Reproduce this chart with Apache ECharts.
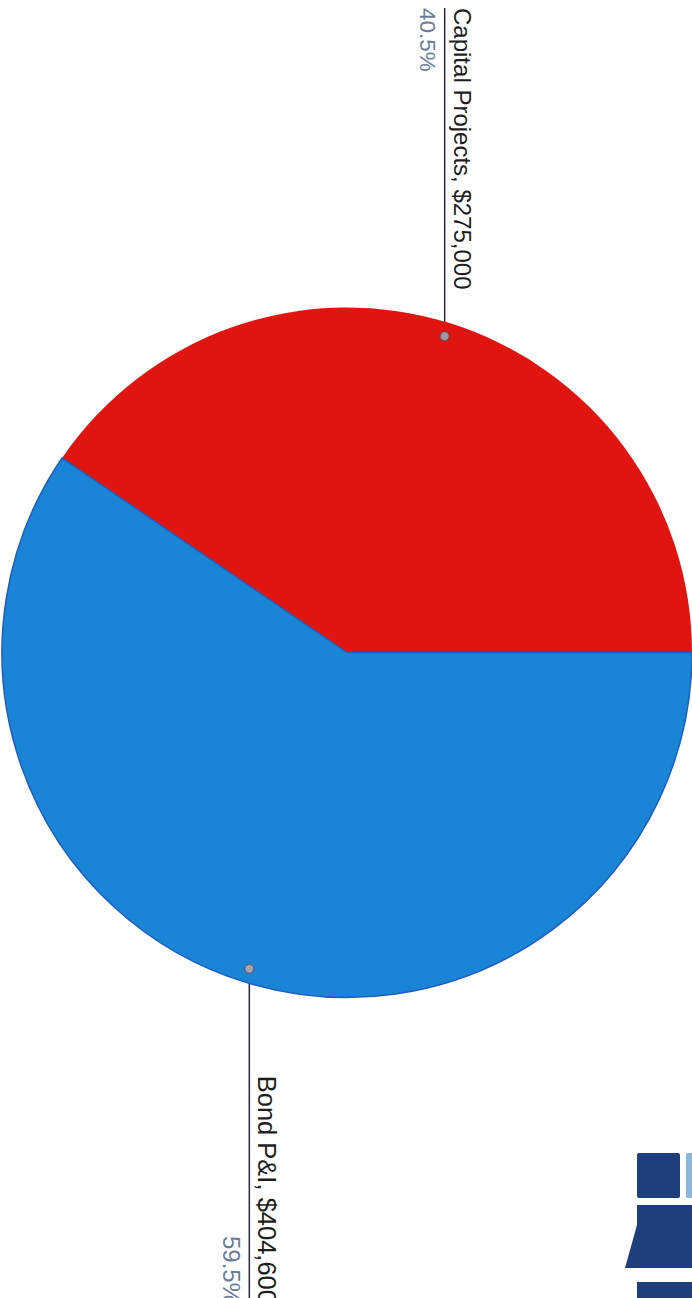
<!DOCTYPE html>
<html>
<head>
<meta charset="utf-8">
<script src="https://cdn.jsdelivr.net/npm/echarts@6/dist/echarts.min.js"></script>
<style>
  html, body { margin: 0; padding: 0; background: #ffffff; width: 692px; height: 1298px; overflow: hidden; }
  /* the page is printed sideways: the landscape chart is turned a quarter clockwise */
  #chart { position: absolute; left: 0; top: 0; width: 1312px; height: 692px;
           transform-origin: 0 0; transform: translate(692px, 0) rotate(90deg); }
</style>
</head>
<body>
<div id="chart"></div>
<script>
// Fund uses
const categories = ['Capital Projects', 'Bond P&I'];
const amounts = [275000, 404600];
const sliceColors = ['#e1150f', '#1a85d4'];
const sliceBorders = ['#e1150f', '#1f5cc2'];
const dotFills = ['#92b6c9', '#c8aaa4'];
const dotBorders = ['#2f4a66', '#4a3a44'];
const nameSizes = [24, 25.5];
const percentSizes = [22.5, 24];

const CENTER = [652.5, 345];
const RADIUS = 345;
const DOT_R = 331;
const FONT = '"Liberation Sans", Arial, Helvetica, sans-serif';

const total = amounts.reduce((a, b) => a + b, 0);
// middle angle of each slice (degrees, counter-clockwise from the right, starting at the top)
const midAngles = [];
let acc = 90;
amounts.forEach(v => {
  const span = v / total * 360;
  midAngles.push(acc + span / 2);
  acc += span;
});

const chart = echarts.init(document.getElementById('chart'), null, { renderer: 'svg' });

chart.setOption({
  backgroundColor: '#ffffff',
  animation: false,
  polar: { center: CENTER, radius: RADIUS },
  radiusAxis: { type: 'value', min: 0, max: RADIUS, show: false },
  angleAxis: { type: 'value', min: 0, max: 360, startAngle: 0, clockwise: false, show: false },
  series: [
    {
      type: 'pie',
      center: CENTER,
      radius: RADIUS,
      startAngle: 90,
      clockwise: false,
      percentPrecision: 1,
      silent: true,
      data: categories.map((name, i) => ({
        name: name,
        value: amounts[i],
        itemStyle: {
          color: sliceColors[i],
          borderColor: sliceBorders[i],
          borderWidth: i === 1 ? 1.5 : 0
        },
        label: {
          rich: {
            name: { fontFamily: FONT, fontSize: nameSizes[i], color: '#1e1e22', lineHeight: 35 },
            per: { fontFamily: FONT, fontSize: percentSizes[i], color: '#6a7d96', lineHeight: 35 }
          }
        }
      })),
      label: {
        show: true,
        alignTo: 'edge',
        edgeDistance: 8,
        fontFamily: FONT,
        formatter: p => '{name|' + p.name + ', $' + p.value.toLocaleString('en-US') + '}\n{per|' + p.percent + '%}',
        rich: {
          name: { fontFamily: FONT, fontSize: 24, color: '#1e1e22', lineHeight: 35 },
          per: { fontFamily: FONT, fontSize: 22.5, color: '#6a7d96', lineHeight: 35 }
        }
      },
      labelLine: {
        show: true,
        length: 0,
        length2: 0,
        lineStyle: { color: '#26283a', width: 1.5 }
      },
      labelLayout: function (params) {
        const a = midAngles[params.dataIndex] * Math.PI / 180;
        const px = CENTER[0] + DOT_R * Math.cos(a);
        const py = CENTER[1] - DOT_R * Math.sin(a);
        const isLeft = px < CENTER[0];
        const r = params.labelRect;
        const endX = isLeft ? r.x : r.x + r.width;
        return {
          y: py,
          labelLinePoints: [[px, py], [px, py], [endX, py]]
        };
      }
    },
    {
      type: 'scatter',
      coordinateSystem: 'polar',
      silent: true,
      symbol: 'circle',
      symbolSize: 9,
      z: 5,
      data: midAngles.map((ang, i) => ({
        value: [DOT_R, ang],
        itemStyle: { color: dotFills[i], borderColor: dotBorders[i], borderWidth: 1 }
      }))
    }
  ],
  graphic: [
    // emblem in the corner
    { type: 'rect', shape: { x: 1153, y: 12, width: 45, height: 43, r: 2 }, style: { fill: '#1d3f7c' } },
    { type: 'rect', shape: { x: 1153, y: -10, width: 45, height: 16, r: 2 }, style: { fill: '#8ab8da' } },
    { type: 'polygon', shape: { points: [[1205, -5], [1205, 55], [1225, 55], [1268, 67], [1268, -5]] }, style: { fill: '#1d3f7c' } },
    { type: 'rect', shape: { x: 1282, y: -5, width: 40, height: 60 }, style: { fill: '#1d3f7c' } }
  ]
});
</script>
</body>
</html>
